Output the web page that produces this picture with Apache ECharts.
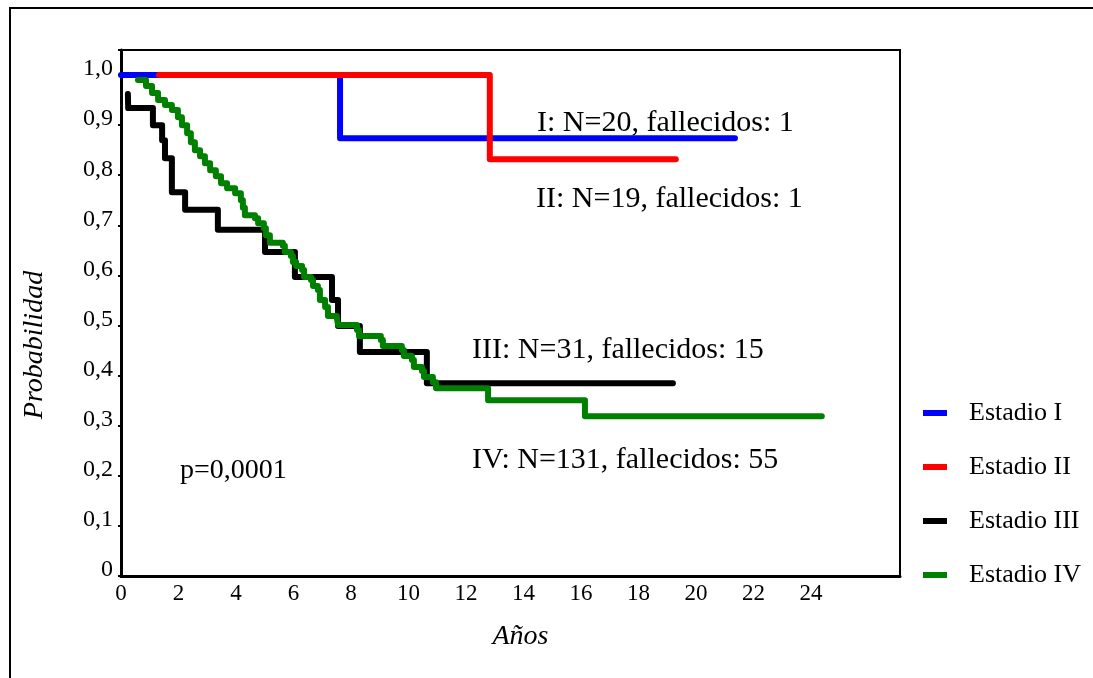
<!DOCTYPE html>
<html>
<head>
<meta charset="utf-8">
<title>Supervivencia por estadio</title>
<script src="https://cdn.jsdelivr.net/npm/echarts@6/dist/echarts.min.js"></script>
<style>
  html, body { margin: 0; padding: 0; background: #fff; }
  #chart { width: 1093px; height: 678px; }
</style>
</head>
<body>
<div id="chart"></div>
<script>
// Kaplan-Meier survival by stage (time in years, survival probability)
const stageNames = ['Estadio I', 'Estadio II', 'Estadio III', 'Estadio IV'];
const stageColors = ['#0000ff', '#ff0000', '#000000', '#008000'];

const timesI = [0, 7.62, 21.36];
const survI = [1.0, 0.874, 0.874];

const timesII = [1.32, 12.83, 19.30];
const survII = [1.0, 0.832, 0.832];

const timesIII = [0.24, 0.25, 1.11, 1.43, 1.53, 1.77, 2.23, 3.37, 5.01, 6.05, 7.34, 7.55, 8.31, 10.64, 19.20];
const survIII = [0.962, 0.934, 0.900, 0.870, 0.834, 0.766, 0.731, 0.691, 0.647, 0.597, 0.551, 0.499, 0.447, 0.385, 0.385];

const timesIV = [0.59, 0.87, 1.08, 1.29, 1.53, 1.77, 1.98, 2.12, 2.30, 2.43, 2.57, 2.75, 2.92, 3.10, 3.30,
  3.48, 3.69, 3.97, 4.17, 4.24, 4.31, 4.66, 4.77, 4.97, 5.04, 5.18, 5.63, 5.70, 5.91, 5.98,
  6.09, 6.30, 6.37, 6.61, 6.68, 6.85, 6.92, 7.10, 7.20, 7.51, 7.55, 8.21, 8.28, 9.04, 9.11,
  9.77, 9.84, 10.12, 10.19, 10.47, 10.54, 10.85, 10.96, 12.77, 16.14, 24.38];
const survIV = [0.990, 0.978, 0.964, 0.950, 0.940, 0.930, 0.916, 0.900, 0.884, 0.866, 0.850, 0.838, 0.824, 0.810, 0.798,
  0.784, 0.774, 0.764, 0.750, 0.735, 0.720, 0.714, 0.704, 0.694, 0.680, 0.665, 0.659, 0.647, 0.639, 0.627,
  0.619, 0.611, 0.597, 0.591, 0.579, 0.571, 0.551, 0.537, 0.519, 0.515, 0.501, 0.491, 0.479, 0.471, 0.459,
  0.451, 0.439, 0.431, 0.417, 0.409, 0.397, 0.387, 0.375, 0.351, 0.319, 0.319];

const xTickLabels = ['0', '2', '4', '6', '8', '10', '12', '14', '16', '18', '20', '22', '24'];
const yTickLabels = ['0', '0,1', '0,2', '0,3', '0,4', '0,5', '0,6', '0,7', '0,8', '0,9', '1,0'];

const annotations = [
  { text: 'I: N=20, fallecidos: 1', x: 537, y: 123, size: 30 },
  { text: 'II: N=19, fallecidos: 1', x: 536, y: 199, size: 30 },
  { text: 'III: N=31, fallecidos: 15', x: 472, y: 350, size: 30 },
  { text: 'IV: N=131, fallecidos: 55', x: 472, y: 460, size: 30 },
  { text: 'p=0,0001', x: 180, y: 471, size: 28 }
];

const serif = '"Liberation Serif", "Times New Roman", serif';

function pairs(ts, ss) { return ts.map((t, i) => [t, ss[i]]); }
const seriesData = [pairs(timesI, survI), pairs(timesII, survII), pairs(timesIII, survIII), pairs(timesIV, survIV)];

const chart = echarts.init(document.getElementById('chart'), null, { renderer: 'canvas' });

const option = {
  backgroundColor: '#ffffff',
  animation: false,
  grid: {
    left: 121, right: 193, top: 50, bottom: 102,
    show: true, borderColor: '#000', borderWidth: 2, backgroundColor: 'transparent'
  },
  xAxis: {
    type: 'value',
    min: 0, max: 27.1, interval: 2,
    name: 'Años',
    nameLocation: 'middle',
    nameGap: 47,
    nameTextStyle: { fontFamily: serif, fontStyle: 'italic', fontSize: 28, color: '#000', padding: [0, 0, 0, 20] },
    axisLine: { show: true, onZero: false, lineStyle: { color: '#000', width: 3 } },
    axisTick: { show: false },
    splitLine: { show: false },
    axisLabel: {
      margin: 6,
      fontFamily: serif, fontSize: 23, color: '#000',
      showMaxLabel: true,
      formatter: function (v) {
        const i = Math.round(v / 2);
        return (Math.abs(v - i * 2) < 1e-6 && i < xTickLabels.length) ? xTickLabels[i] : '';
      }
    }
  },
  yAxis: {
    type: 'value',
    min: 0, max: 1.05, interval: 0.1,
    name: 'Probabilidad',
    nameLocation: 'middle',
    nameGap: 72,
    nameTextStyle: { fontFamily: serif, fontStyle: 'italic', fontSize: 28, color: '#000', padding: [0, 64, 0, 0] },
    axisLine: { show: true, onZero: false, lineStyle: { color: '#000', width: 3 } },
    axisTick: { show: true, inside: false, length: 3, lineStyle: { color: '#000', width: 2 } },
    splitLine: { show: false },
    axisLabel: {
      margin: 8,
      fontFamily: serif, fontSize: 24, color: '#000',
      verticalAlign: 'bottom',
      lineHeight: 12,
      formatter: function (v) {
        const i = Math.round(v * 10);
        return (Math.abs(v * 10 - i) < 1e-6 && i < yTickLabels.length) ? yTickLabels[i] : '';
      }
    }
  },
  legend: {
    orient: 'vertical',
    left: 923, top: 400,
    padding: 0,
    itemWidth: 24, itemHeight: 6,
    itemGap: 28,
    icon: 'rect',
    data: stageNames,
    textStyle: { fontFamily: serif, fontSize: 26, color: '#000', lineHeight: 26, padding: [0, 0, 0, 17] }
  },
  series: stageNames.map((name, k) => ({
    name: name,
    type: 'line',
    step: 'end',
    data: seriesData[k],
    showSymbol: false,
    symbol: 'none',
    color: stageColors[k],
    itemStyle: { color: stageColors[k] },
    lineStyle: { color: stageColors[k], width: 6, cap: 'round', join: 'round' },
    z: 2 + k
  })),
  graphic: [
    {
      type: 'polyline',
      shape: { points: [[10, 678], [10, 8], [1093, 8]] },
      style: { stroke: '#000', lineWidth: 2, fill: null },
      silent: true
    }
  ].concat(annotations.map(a => ({
    type: 'text',
    x: a.x, y: a.y,
    style: { text: a.text, fontFamily: serif, fontSize: a.size, fill: '#000', verticalAlign: 'middle', align: 'left' },
    silent: true
  })))
};

chart.setOption(option);
</script>
</body>
</html>
